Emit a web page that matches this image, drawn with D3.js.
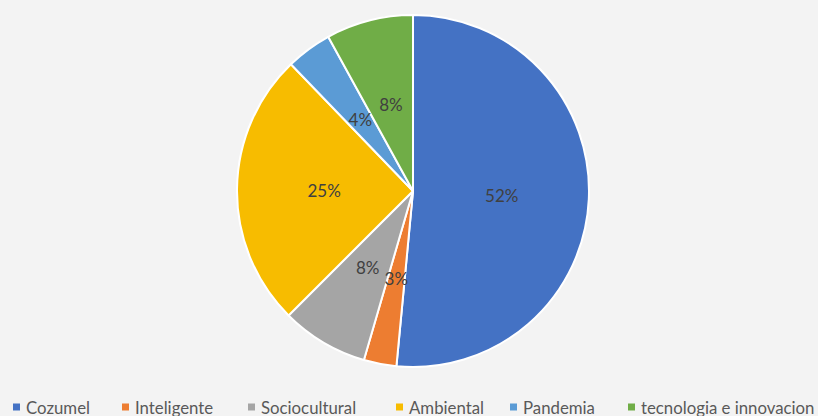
<!DOCTYPE html>
<html>
<head>
<meta charset="utf-8">
<script src="https://cdn.jsdelivr.net/npm/d3@7"></script>
<style>
html,body{margin:0;padding:0;background:#f3f3f3;}
svg{display:block;}
</style>
</head>
<body>
<svg id="chart" width="818" height="416"></svg>
<script>
const categories = ["Cozumel", "Inteligente", "Sociocultural", "Ambiental", "Pandemia", "tecnologia e innovacion"];
const values = [51.5, 3.0, 8.0, 25.3, 4.2, 8.0];
const colors = ["#4472c4", "#ed7d31", "#a5a5a5", "#f7bc00", "#5b9bd5", "#70ad47"];

const svg = d3.select("#chart");
const W = 818, H = 416;
svg.append("rect").attr("width", W).attr("height", H).attr("fill", "#f3f3f3");

const cx = 413, cy = 191, R = 176;
const data = categories.map((c, i) => ({name: c, value: values[i], color: colors[i]}));
const total = d3.sum(values);

const pie = d3.pie().value(d => d.value).sort(null);
const arcs = pie(data);
const arc = d3.arc().innerRadius(0).outerRadius(R);
const labelArc = d3.arc().innerRadius(R * 0.505).outerRadius(R * 0.505);

const g = svg.append("g").attr("transform", `translate(${cx},${cy})`);
g.selectAll("path").data(arcs).enter().append("path")
  .attr("d", arc)
  .attr("fill", d => d.data.color)
  .attr("stroke", "#ffffff")
  .attr("stroke-width", 2)
  .attr("stroke-linejoin", "round");

g.selectAll("text").data(arcs).enter().append("text")
  .attr("transform", d => `translate(${labelArc.centroid(d)})`)
  .attr("text-anchor", "middle")
  .attr("dominant-baseline", "central")
  .attr("font-family", "Lato, 'Open Sans', sans-serif")
  .attr("font-size", 17)
  .attr("fill", "#404040")
  .text(d => Math.round(d.data.value / total * 100) + "%");

// Legend
const legendX = [13, 122, 248, 396, 510, 628];
const legendY = 407;
const lg = svg.append("g");
data.forEach((d, i) => {
  const item = lg.append("g").attr("transform", `translate(${legendX[i]},${legendY})`);
  item.append("rect").attr("x", 0).attr("y", -3.5).attr("width", 7).attr("height", 7).attr("fill", d.color);
  item.append("text").attr("x", 13).attr("y", 0)
    .attr("dominant-baseline", "central")
    .attr("font-family", "Lato, 'Open Sans', sans-serif")
    .attr("font-size", 16.8)
    .attr("fill", "#595959")
    .text(d.name);
});
</script>
</body>
</html>
